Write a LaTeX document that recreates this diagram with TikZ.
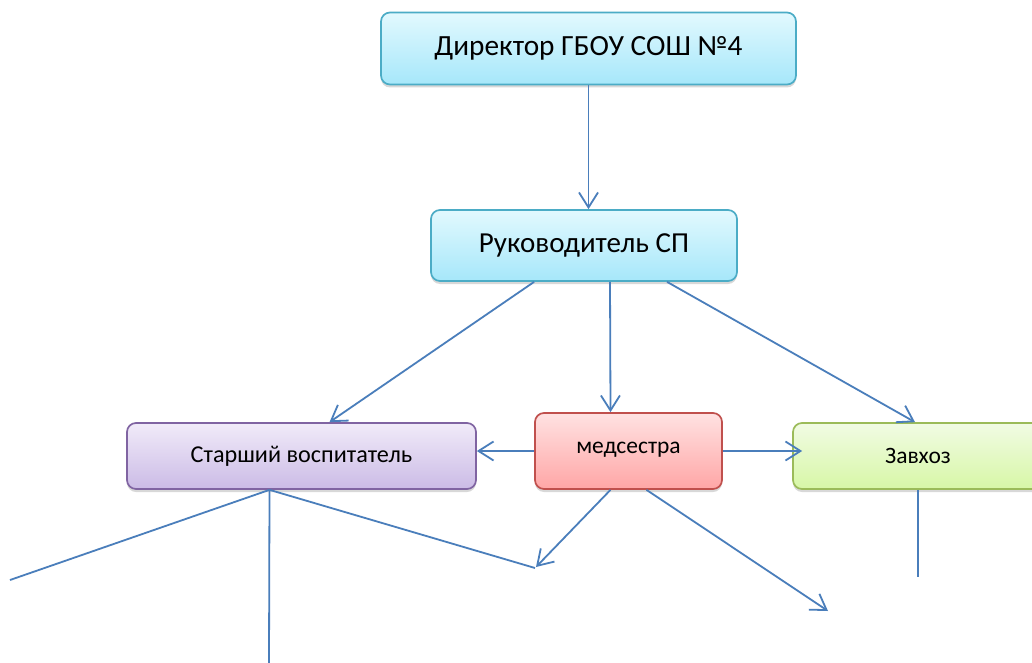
\documentclass[tikz,border=0pt]{standalone}
\usepackage{fontspec}
\setmainfont{Carlito}
\usetikzlibrary{arrows.meta, positioning, shadows}

\definecolor{linkblue}{RGB}{74,126,187}
\definecolor{tealtop}{RGB}{226,249,254}
\definecolor{tealbot}{RGB}{166,231,250}
\definecolor{tealline}{RGB}{75,172,198}
\definecolor{purptop}{RGB}{241,235,249}
\definecolor{purpbot}{RGB}{203,187,230}
\definecolor{purpline}{RGB}{128,100,162}
\definecolor{redtop}{RGB}{255,226,226}
\definecolor{redbot}{RGB}{255,166,166}
\definecolor{redline}{RGB}{192,80,77}
\definecolor{greentop}{RGB}{241,251,228}
\definecolor{greenbot}{RGB}{215,247,166}
\definecolor{greenline}{RGB}{155,187,89}

\begin{document}
\begin{tikzpicture}[x=1pt, y=-1pt,
    box/.style={draw, rectangle, rounded corners=9pt, line width=1.7pt, inner sep=0pt, text centered,
        drop shadow={shadow xshift=0pt, shadow yshift=-3pt, opacity=0.3}},
    link/.style={draw=linkblue, line width=1.8pt},
    arr/.style={link, -{Straight Barb[length=15pt, width=19pt, line width=1.8pt]}}]
    \useasboundingbox (0,0) rectangle (1032,663);
    \clip (0,0) rectangle (1032,663);
    \fill[white] (0,0) rectangle (1032,663);

    \node (director) at (588.5,48.5) [box, draw=tealline, top color=tealtop, bottom color=tealbot, minimum width=415pt, minimum height=72pt, font=\fontsize{29.3}{33}\selectfont] {Директор ГБОУ СОШ №4};
    \node (leader) at (584,245.5) [box, draw=tealline, top color=tealtop, bottom color=tealbot, minimum width=306pt, minimum height=71pt, font=\fontsize{29}{33}\selectfont] {Руководитель СП};
    \node (senior) at (301.5,456) [box, draw=purpline, top color=purptop, bottom color=purpbot, minimum width=349pt, minimum height=66pt, font=\fontsize{24.2}{28}\selectfont] {Старший воспитатель};
    \node (nurse) at (628.5,451) [box, draw=redline, top color=redtop, bottom color=redbot, minimum width=187pt, minimum height=76pt, font=\fontsize{23.5}{27}\selectfont] {\raisebox{7pt}{медсестра}};
    \node (keeper) at (918,456) [box, draw=greenline, top color=greentop, bottom color=greenbot, minimum width=250pt, minimum height=66pt, font=\fontsize{23.5}{27}\selectfont] {Завхоз};

    \coordinate (seniorleft) at (10,580);
    \coordinate (seniordown) at (269,663);
    \coordinate (seniorright) at (535,568);
    \coordinate (nurseleft) at (536,567);
    \coordinate (nurseright) at (828,611);
    \coordinate (keeperdown) at (918,577);

    \draw[arr] (director.south) -- (director.south |- leader.north);
    \draw[arr] ([xshift=104pt]leader.south west) -- ([xshift=28pt]senior.north);
    \draw[arr] ([xshift=26pt]leader.south) -- ([xshift=-18pt]nurse.north);
    \draw[arr] ([xshift=83pt]leader.south) -- ([xshift=-3pt]keeper.north);
    \draw[arr] (nurse.west) -- (nurse.west -| senior.east);
    \draw[arr] (nurse.east) -- ([xshift=10pt]nurse.east -| keeper.west);
    \draw[link] ([xshift=-32pt]senior.south) -- (seniorleft);
    \draw[link] ([xshift=-32pt]senior.south) -- (seniordown);
    \draw[link] ([xshift=-32pt]senior.south) -- (seniorright);
    \draw[arr] ([xshift=-18pt]nurse.south) -- (nurseleft);
    \draw[arr] ([xshift=18pt]nurse.south) -- (nurseright);
    \draw[link] (keeper.south) -- (keeperdown);
\end{tikzpicture}
\end{document}
